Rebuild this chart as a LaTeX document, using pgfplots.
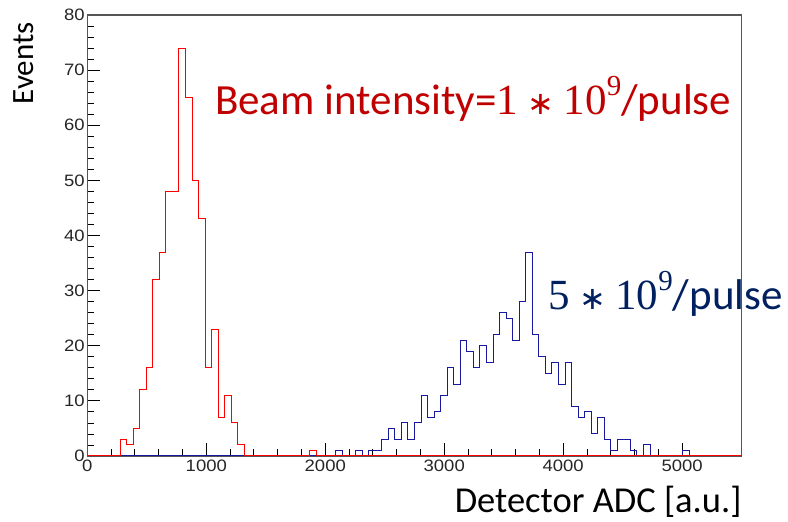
\documentclass[border=0pt]{standalone}
\usepackage{pgfplots}
\pgfplotsset{compat=1.18}
\usepackage{pgfplotstable}
\usepackage{fontspec}
\setmainfont{Carlito}
\newfontfamily\arial{Liberation Sans}
\newfontfamily\serifd{Liberation Serif}
\newfontfamily\dejavu{DejaVu Sans}
\definecolor{hred}{RGB}{255,0,0}
\definecolor{hblue}{RGB}{25,25,160}
\definecolor{tred}{RGB}{192,0,0}
\definecolor{tblue}{RGB}{0,32,96}
\definecolor{framec}{RGB}{85,85,85}
\newcommand{\sci}[1]{{\serifd #1\hspace{0.22em}{\dejavu\fontsize{32}{32}\selectfont ∗}\hspace{0.22em}10\raisebox{0.45em}{\fontsize{29}{29}\selectfont 9}}}

\pgfplotstableread{
x y
0 0
275 3
330 2
385 5
440 12
495 16
550 32
605 37
660 48
770 74
825 65
880 50
935 43
990 16
1045 23
1100 7
1155 11
1210 6
1265 2
1320 0
1870 1
1925 0
5500 0
}\redhist

\pgfplotstableread{
x y
0 0
2090 1
2145 0
2255 1
2310 0
2365 1
2475 3
2530 5
2585 3
2640 6
2695 3
2750 6
2805 11
2860 7
2915 8
2970 11
3025 16
3080 13
3135 21
3190 19
3245 16
3300 20
3355 17
3410 22
3465 26
3520 25
3575 21
3630 28
3685 37
3740 22
3795 18
3850 15
3905 17
3960 13
4015 17
4070 9
4125 7
4180 8
4235 4
4290 7
4345 3
4400 1
4455 3
4565 1
4620 0
4675 2
4730 0
5005 1
5060 0
5500 0
}\bluehist

\begin{document}
\begin{tikzpicture}
\useasboundingbox (0pt,0pt) rectangle (788pt,522pt);
\begin{axis}[
  at={(87.3pt,66pt)}, anchor=south west,
  scale only axis, width=654.4pt, height=441pt,
  xmin=0, xmax=5500, ymin=0, ymax=80,
  xtick={0,1000,...,5000}, ytick={0,10,...,80},
  minor x tick num=4, minor y tick num=4,
  tick pos=left, tick align=inside,
  major tick length=13pt, minor tick length=7pt,
  every tick/.style={black, line width=0.8pt},
  axis line style={framec, line width=1.2pt},
  tick label style={font=\arial\fontsize{16.5}{16.5}\selectfont, text=black!85},
  xticklabel={\scalebox{1.12}[1]{\pgfmathprintnumber{\tick}}},
  yticklabel={\scalebox{1.12}[1]{\pgfmathprintnumber{\tick}}},
  yticklabel style={xshift=1pt},
  /pgf/number format/assume math mode=true,
  /pgf/number format/1000 sep={},
  xlabel={Detector ADC [a.u.]},
  ylabel={Events},
  xlabel style={at={(axis cs:5500,-10.3)}, anchor=base east, inner sep=0pt, font=\fontsize{36.5}{36.5}\selectfont},
  ylabel style={at={(axis cs:-454,78.7)}, anchor=base east, inner sep=0pt, font=\fontsize{31}{31}\selectfont},
  clip=false,
]
\addplot[const plot, hblue, line width=1pt] table {\bluehist};
\addplot[const plot, hred, line width=1pt] table {\redhist};
\node[anchor=base west, inner sep=0pt, text=tred, font=\fontsize{43}{43}\selectfont] at (axis cs:1073,61.86) {Beam intensity=\sci{1}/pulse};
\node[anchor=base west, inner sep=0pt, text=tblue, font=\fontsize{43}{43}\selectfont] at (axis cs:3872,26.5) {\sci{5}/pulse};
\end{axis}
\end{tikzpicture}
\end{document}
